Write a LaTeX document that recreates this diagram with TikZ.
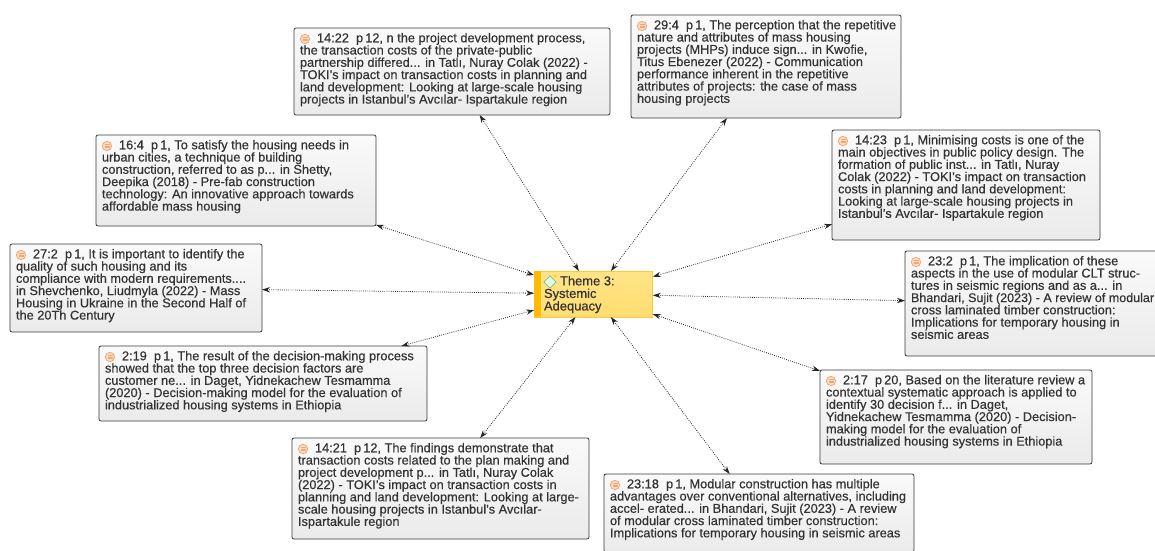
\documentclass[tikz,border=0pt]{standalone}
\usepackage{fontspec}
\setmainfont{Liberation Sans}[RawFeature={embolden=0.45}]
\usetikzlibrary{arrows.meta,shapes.geometric}
\definecolor{txt}{HTML}{333333}
\definecolor{edge}{HTML}{3A3A3A}
\definecolor{ictop}{HTML}{FFE488}
\definecolor{icbot}{HTML}{FFDD70}
\definecolor{icedge}{HTML}{FFC83C}
\definecolor{icstrip}{HTML}{FFB908}
\definecolor{qo}{HTML}{F0A878}
\definecolor{qf}{HTML}{FBDCC4}
\tikzset{
  x=0.75pt,y=-0.75pt,
  qbox/.style={draw=edge,line width=0.6pt,rounded corners=1.5pt,top color=black!2,bottom color=black!8,inner sep=0pt,outer sep=0pt},
  qtext/.style={inner sep=0pt,outer sep=0pt,anchor=north west,align=left,text=txt,font=\fontsize{9.58pt}{9.2pt}\selectfont},
  qicon/.style={circle,draw=qo,fill=qf,line width=0.6pt,minimum size=7pt,inner sep=0pt},
  link/.style={densely dotted,line width=0.6pt,black!85,{Stealth[length=6pt,width=4pt]}-{Stealth[length=6pt,width=4pt]}},
}
\newcommand{\qb}[6]{%
  \node[qbox,minimum width={(#4-#2)*0.75pt},minimum height={(#5-#3)*0.75pt}] (#1) at ({(#2+#4)/2},{(#3+#5)/2}) {};
  \node[qtext] (#1t) at ({#2+6},{#3+5}) {\hspace*{12.75pt}#6};
  \node[qicon] (#1i) at ({#2+11},{#3+11}) {};
  \draw[qo,line width=0.4pt] ({#2+8.5},{#3+9.5}) -- ++(5,0) ({#2+8.5},{#3+11}) -- ++(5,0) ({#2+8.5},{#3+12.5}) -- ++(5,0);
}
\begin{document}
\begin{tikzpicture}
\useasboundingbox (0,0) rectangle (1155,550);
\clip (0,0) rectangle (1155,550);
\fill[white] (0,0) rectangle (1155,550);
\qb{a}{294}{28}{610}{115}{14:22\ \ p\,12, n the project development process,\\the transaction costs of the private-public\\partnership differed... in Tatlı, Nuray Colak (2022) -\\TOKI's impact on transaction costs in planning and\\land development: Looking at large-scale housing\\projects in Istanbul's Avcılar- Ispartakule region}
\qb{b}{631}{15}{901}{118}{29:4\ \ p\,1, The perception that the repetitive\\nature and attributes of mass housing\\projects (MHPs) induce sign... in Kwofie,\\Titus Ebenezer (2022) - Communication\\performance inherent in the repetitive\\attributes of projects: the case of mass\\housing projects}
\qb{c}{96}{135}{376}{226}{16:4\ \ p\,1, To satisfy the housing needs in\\urban cities, a technique of building\\construction, referred to as p... in Shetty,\\Deepika (2018) - Pre-fab construction\\technology: An innovative approach towards\\affordable mass housing}
\qb{d}{832}{130}{1100}{240}{14:23\ \ p\,1, Minimising costs is one of the\\main objectives in public policy design. The\\formation of public inst... in Tatlı, Nuray\\Colak (2022) - TOKI's impact on transaction\\costs in planning and land development:\\Looking at large-scale housing projects in\\Istanbul's Avcılar- Ispartakule region}
\qb{e}{10}{244}{262}{332}{27:2\ \ p\,1, It is important to identify the\\quality of such housing and its\\compliance with modern requirements....\\in Shevchenko, Liudmyla (2022) - Mass\\Housing in Ukraine in the Second Half of\\the 20Th Century}
\qb{f}{905}{251}{1170}{356}{23:2\ \ p\,1, The implication of these\\aspects in the use of modular CLT struc-\\tures in seismic regions and as a... in\\{\fontsize{9.4pt}{9.2pt}\selectfont Bhandari, Sujit (2023) - A review of modular}\\cross laminated timber construction:\\Implications for temporary housing in\\seismic areas}
\qb{g}{99}{346}{427}{421}{2:19\ \ p\,1, The result of the decision-making process\\showed that the top three decision factors are\\customer ne... in Daget, Yidnekachew Tesmamma\\(2020) - Decision-making model for the evaluation of\\industrialized housing systems in Ethiopia}
\qb{h}{820}{370}{1092}{464}{2:17\ \ p\,20, Based on the literature review a\\contextual systematic approach is applied to\\identify 30 decision f... in Daget,\\Yidnekachew Tesmamma (2020) - Decision-\\making model for the evaluation of\\industrialized housing systems in Ethiopia}
\qb{i}{292}{438}{589}{539}{14:21\ \ p\,12, The findings demonstrate that\\transaction costs related to the plan making and\\project development p... in Tatlı, Nuray Colak\\(2022) - TOKI's impact on transaction costs in\\planning and land development: Looking at large-\\scale housing projects in Istanbul's Avcılar-\\Ispartakule region}
\qb{j}{604}{474}{914}{552}{23:18\ \ p\,1, Modular construction has multiple\\advantages over conventional alternatives, including\\accel- erated... in Bhandari, Sujit (2023) - A review\\of modular cross laminated timber construction:\\Implications for temporary housing in seismic areas}
\node[draw=icedge,line width=0.7pt,inner sep=0pt,outer sep=0pt,top color=ictop,bottom color=icbot,minimum width=89pt,minimum height=34.5pt] (t) at (593.5,294) {};
\node[fill=icstrip,inner sep=0pt,outer sep=0pt,minimum width=4.8pt,minimum height=34.5pt] (ts) at (537.3,294) {};
\node[diamond,draw=green!35!black!45,fill=green!12!white,line width=0.6pt,minimum width=9.5pt,minimum height=9.5pt,inner sep=0pt] (ti) at (550,282) {};
\node[circle,fill=yellow!70!orange,minimum size=2pt,inner sep=0pt] (td) at (555,276) {};
\node[qtext,font=\fontsize{9.7pt}{9.4pt}\selectfont] (tt) at (544,276) {\hspace*{12pt}Theme 3:\\Systemic\\Adequacy};
\foreach \n in {a,b,c,d,e,f,g,h,i,j} \draw[link] (\n) -- (t);
\end{tikzpicture}
\end{document}
